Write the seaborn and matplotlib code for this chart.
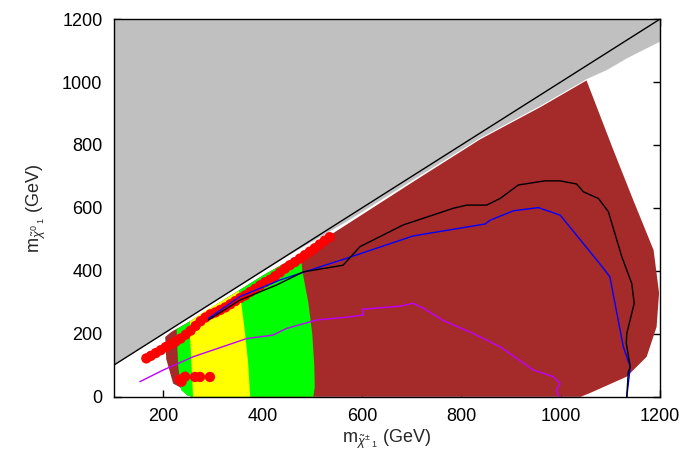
import numpy as np
import pandas as pd
import matplotlib
matplotlib.use("Agg")
import matplotlib.pyplot as plt
import seaborn as sns

# excluded (gray) region, lower edge then top corners
gray_x = [100, 450, 569, 703, 838, 960, 1052, 1093, 1133, 1173, 1200, 1200, 100]
gray_y = [100, 447, 556, 689, 822, 925, 1009, 1038, 1075, 1107, 1128, 1200, 1200]

# allowed region (brown)
brown_x = [204, 217, 254, 321, 400, 475, 569, 703, 838, 960, 1052, 1106, 1146,
           1187, 1198, 1193, 1173, 1133, 1059, 1040, 500, 258, 248, 234, 220, 206]
brown_y = [190, 207, 240, 307, 385, 452, 547, 683, 818, 921, 1005, 784, 625,
           466, 330, 222, 127, 64, 12, 0, 0, 0, 5, 30, 42, 120]

# green region
green_x = [227, 254, 321, 400, 475, 478, 480, 492, 500, 504, 505, 502, 258, 248, 236, 230]
green_y = [215, 240, 307, 385, 450, 440, 400, 300, 200, 100, 30, 0, 0, 5, 21, 100]

# yellow region
yellow_x = [254, 287, 321, 352, 356, 364, 371, 375, 260, 257, 254]
yellow_y = [240, 275, 307, 337, 310, 212, 106, 0, 0, 100, 193]

# red points
red_x = [166, 175, 185, 195, 205, 215, 225, 235, 245, 255, 265, 275, 285, 295, 305,
         315, 325, 335, 345, 355, 365, 375, 385, 395, 405, 415, 425, 435, 445, 455,
         465, 475, 485, 495, 505, 515, 525, 535,
         234, 237, 244, 264, 274, 294]
red_y = [122, 130, 139, 148, 158, 166, 175, 185, 197, 210, 225, 240, 252, 262, 268,
         276, 284, 294, 304, 314, 322, 333, 343, 354, 364, 372, 383, 395, 407, 418,
         428, 439, 450, 461, 472, 484, 496, 507,
         55, 48, 64, 63, 63, 63]

# contours
black_x = [291, 354, 428, 482, 562, 596, 683, 784, 811, 851, 878, 915, 968, 999,
           1032, 1046, 1076, 1096, 1123, 1143, 1148, 1133, 1132, 1140, 1136, 1133]
black_y = [244, 307, 355, 397, 418, 477, 546, 599, 609, 609, 630, 673, 686, 686,
           676, 651, 630, 588, 445, 360, 297, 201, 170, 95, 79, 0]

blue_x = [291, 354, 435, 475, 569, 703, 848, 858, 905, 955, 999, 1078, 1099, 1126, 1140, 1133]
blue_y = [249, 318, 371, 392, 440, 511, 549, 561, 591, 601, 577, 424, 381, 159, 95, 0]

magenta_x = [153, 200, 260, 368, 421, 448, 509, 576, 603, 600, 677, 703, 724, 764,
             824, 878, 945, 985, 999, 991, 997]
magenta_y = [48, 85, 127, 185, 196, 217, 244, 254, 260, 278, 288, 297, 281, 242,
             201, 159, 85, 64, 42, 21, 0]

diag = [100, 1200]

sns.set_theme(style="ticks")
plt.rcParams['font.family'] = ['Liberation Sans', 'DejaVu Sans']
plt.rcParams['mathtext.fontset'] = 'custom'
plt.rcParams['mathtext.rm'] = 'Liberation Sans'
plt.rcParams['mathtext.it'] = 'Liberation Sans:italic'

fig = plt.figure(figsize=(6.84, 4.54), dpi=100)
ax = fig.add_axes([0.166, 0.126, 0.799, 0.832])

ax.fill(gray_x, gray_y, color='#c0c0c0', lw=0, zorder=1)
ax.fill(brown_x, brown_y, color='#a52a2a', lw=0, zorder=2)
ax.fill(green_x, green_y, color='#00ff00', lw=0, zorder=3)
ax.fill(yellow_x, yellow_y, color='#ffff00', lw=0, zorder=4)

sns.scatterplot(x=red_x, y=red_y, color='#ff0000', s=55, edgecolor='none',
                ax=ax, zorder=5, legend=False)

sns.lineplot(x=magenta_x, y=magenta_y, sort=False, estimator=None,
             color='#c000ff', lw=1.0, ax=ax, zorder=6)
sns.lineplot(x=blue_x, y=blue_y, sort=False, estimator=None,
             color='#0000ff', lw=1.0, ax=ax, zorder=6)
sns.lineplot(x=black_x, y=black_y, sort=False, estimator=None,
             color='black', lw=1.0, ax=ax, zorder=7)
sns.lineplot(x=diag, y=diag, sort=False, estimator=None,
             color='black', lw=1.0, ax=ax, zorder=8)

ax.set_xlim(100, 1200)
ax.set_ylim(0, 1200)
ax.set_xticks([200, 400, 600, 800, 1000, 1200])
ax.set_yticks([0, 200, 400, 600, 800, 1000, 1200])
ax.tick_params(direction='in', length=5, width=1, top=True, right=True,
               labelsize=13, pad=8, colors='black')
for sp in ax.spines.values():
    sp.set_linewidth(1.0)
    sp.set_color('black')
    sp.set_zorder(10)

ax.set_xlabel(r'm$_{\tilde{\chi}^{\pm}{}_{\ 1}}$ (GeV)', fontsize=13, labelpad=2)
ax.set_ylabel(r'm$_{\tilde{\chi}^{0}{}_{\ 1}}$ (GeV)', fontsize=13, labelpad=10)

fig.savefig('out.png', dpi=100)
